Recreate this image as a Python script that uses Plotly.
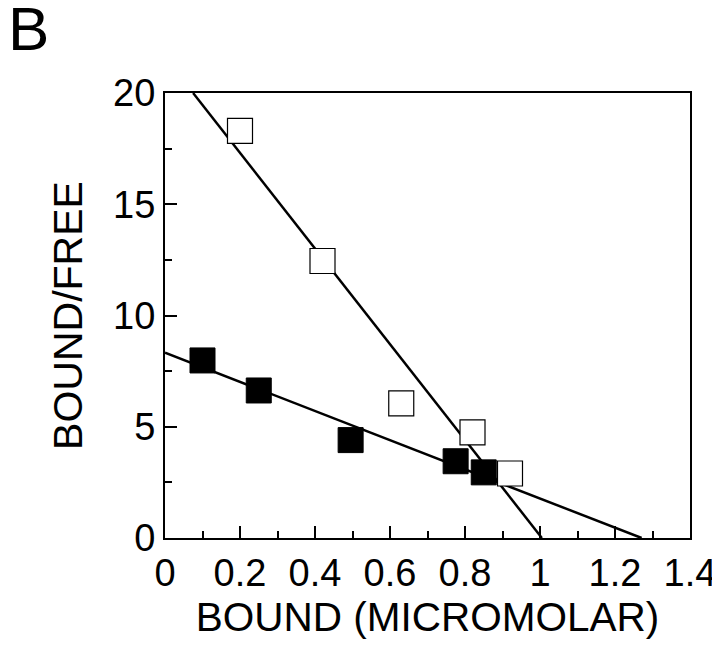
import plotly.graph_objects as go
import numpy as np

# Open squares
open_x = [0.20, 0.42, 0.63, 0.82, 0.92]
open_y = [18.3, 12.45, 6.05, 4.75, 2.9]
# Filled squares
filled_x = [0.10, 0.25, 0.495, 0.775, 0.85]
filled_y = [7.98, 6.63, 4.4, 3.45, 2.95]

# Fit lines (x range, intercept, slope)
open_fit_x = [0.075, 1.005]
open_fit_int = 21.61
open_fit_slope = -21.5
filled_fit_x = [0.0, 1.271]
filled_fit_int = 8.33
filled_fit_slope = -6.555

x_ticks = [0, 0.2, 0.4, 0.6, 0.8, 1, 1.2, 1.4]
x_ticklabels = ["0", "0.2", "0.4", "0.6", "0.8", "1", "1.2", "1.4"]
y_ticks = [0, 5, 10, 15, 20]

FONT = "Liberation Sans, Arial, sans-serif"

fig = go.Figure()

ofx = np.array(open_fit_x)
fig.add_trace(go.Scatter(x=ofx, y=open_fit_int + open_fit_slope * ofx, mode="lines",
                         line=dict(color="black", width=2.5), showlegend=False))
ffx = np.array(filled_fit_x)
fig.add_trace(go.Scatter(x=ffx, y=filled_fit_int + filled_fit_slope * ffx, mode="lines",
                         line=dict(color="black", width=2.5), showlegend=False))
fig.add_trace(go.Scatter(x=open_x, y=open_y, mode="markers",
                         marker=dict(symbol="square", size=25, color="white",
                                     line=dict(color="black", width=1.2)), showlegend=False))
fig.add_trace(go.Scatter(x=filled_x, y=filled_y, mode="markers",
                         marker=dict(symbol="square", size=25, color="black",
                                     line=dict(color="black", width=1)), showlegend=False))

axis_common = dict(showgrid=False, zeroline=False, showline=True, linecolor="black",
                   linewidth=2, mirror=True, ticks="inside", tickcolor="black",
                   tickwidth=2, ticklen=12, automargin=False,
                   tickfont=dict(family=FONT, size=38, color="black"))

fig.update_xaxes(range=[0, 1.4], tickvals=x_ticks, ticktext=x_ticklabels,
                 minor=dict(ticks="inside", dtick=0.1, ticklen=7, tickwidth=2, tickcolor="black", showgrid=False),
                 title=dict(text="BOUND (MICROMOLAR)", font=dict(family=FONT, size=40.5, color="black"), standoff=10),
                 **axis_common)
fig.update_yaxes(range=[0, 20], tickvals=y_ticks,
                 minor=dict(ticks="inside", dtick=2.5, ticklen=7, tickwidth=2, tickcolor="black", showgrid=False),
                 title=dict(text="BOUND/FREE", font=dict(family=FONT, size=41, color="black"), standoff=18),
                 **axis_common)

fig.add_annotation(text="B", xref="paper", yref="paper", x=-0.303, y=1.145,
                   xanchor="left", yanchor="middle", showarrow=False,
                   font=dict(family=FONT, size=62, color="black"))

fig.update_layout(width=720, height=648, margin=dict(l=157, r=38, t=85, b=118),
                  plot_bgcolor="white", paper_bgcolor="white")

fig.write_html("out.html")
